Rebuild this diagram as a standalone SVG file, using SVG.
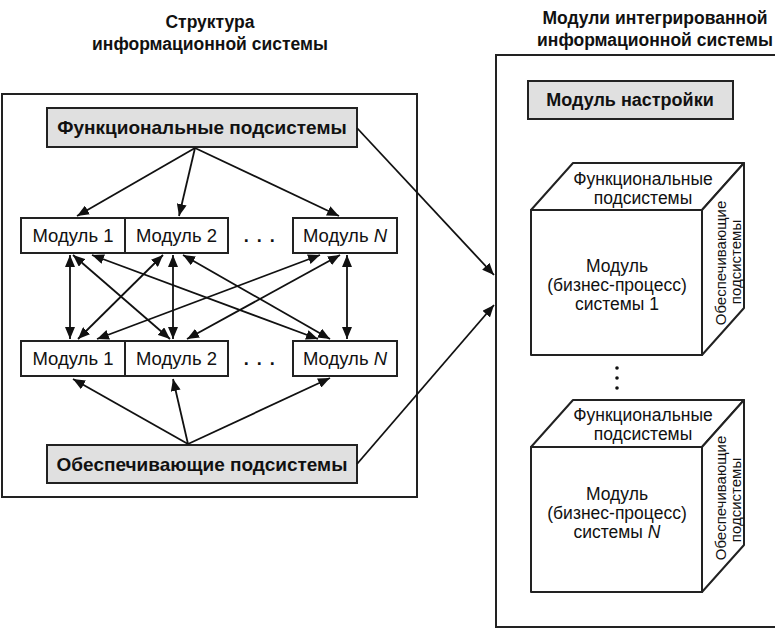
<svg xmlns="http://www.w3.org/2000/svg" width="775" height="630" viewBox="0 0 775 630">
<defs>
<marker id="ah" viewBox="0 0 12 10" refX="12" refY="5" markerWidth="12" markerHeight="10" markerUnits="userSpaceOnUse" orient="auto-start-reverse">
<path d="M0,0 L12,5 L0,10 Z" fill="#111"/>
</marker>
<style>
.frame{fill:none;stroke:#222;stroke-width:2}
.gbox{fill:#e0e0e0;stroke:#222;stroke-width:2}
.wbox{fill:#fff;stroke:#222;stroke-width:2}
.face{fill:#fff;stroke:#222;stroke-width:2;stroke-linejoin:round}
.t{font-family:"Liberation Sans",Arial,sans-serif;fill:#111;text-anchor:middle}
.b{font-weight:bold}
.c line{stroke:#111;stroke-width:1.8}
.one{marker-end:url(#ah)}
.two{marker-start:url(#ah);marker-end:url(#ah)}
</style>
</defs>
<rect width="775" height="630" fill="#fff"/>

<g id="titles">
<text class="t b" x="210" y="28" font-size="17.5">Структура</text>
<text class="t b" x="210" y="50" font-size="17.5">информационной системы</text>
<text class="t b" x="655" y="24" font-size="17.5">Модули интегрированной</text>
<text class="t b" x="655" y="46" font-size="17.5">информационной системы</text>
</g>

<g id="left-frame"><rect class="frame" x="2" y="94" width="415" height="403"/></g>
<g id="right-frame"><rect class="frame" x="496" y="55" width="300" height="572"/></g>

<g id="func">
<rect class="gbox" x="47" y="108" width="310" height="39"/>
<text class="t b" x="202" y="134" font-size="19">Функциональные подсистемы</text>
</g>
<g id="obesp">
<rect class="gbox" x="47" y="445" width="310" height="38"/>
<text class="t b" x="202" y="471" font-size="19">Обеспечивающие подсистемы</text>
</g>

<g id="row1-m1"><rect class="wbox" x="21" y="218" width="104" height="35"/><text class="t" x="73" y="242" font-size="18.5">Модуль 1</text></g>
<g id="row1-m2"><rect class="wbox" x="125" y="218" width="103" height="35"/><text class="t" x="176.5" y="242" font-size="18.5">Модуль 2</text></g>
<g id="row1-dots"><text class="t b" x="260" y="242" font-size="18" letter-spacing="1.5">. . .</text></g>
<g id="row1-mn"><rect class="wbox" x="293" y="218" width="104" height="35"/><text class="t" x="345" y="242" font-size="18.5">Модуль <tspan font-style="italic">N</tspan></text></g>

<g id="row2-m1"><rect class="wbox" x="21" y="341" width="104" height="35"/><text class="t" x="73" y="365" font-size="18.5">Модуль 1</text></g>
<g id="row2-m2"><rect class="wbox" x="125" y="341" width="103" height="35"/><text class="t" x="176.5" y="365" font-size="18.5">Модуль 2</text></g>
<g id="row2-dots"><text class="t b" x="260" y="365" font-size="18" letter-spacing="1.5">. . .</text></g>
<g id="row2-mn"><rect class="wbox" x="293" y="341" width="104" height="35"/><text class="t" x="345" y="365" font-size="18.5">Модуль <tspan font-style="italic">N</tspan></text></g>

<g id="nastroyka">
<rect class="gbox" x="528" y="81" width="205" height="38"/>
<text class="t b" x="630" y="106" font-size="18">Модуль настройки</text>
</g>

<g id="cube1">
<polygon class="face" points="531,210 573,163 744,163 702,210"/>
<polygon class="face" points="702,210 744,163 744,308 702,355"/>
<rect class="face" x="531" y="210" width="171" height="145"/>
<text class="t" x="643" y="185" font-size="17.5">Функциональные</text>
<text class="t" x="643" y="204" font-size="17.5">подсистемы</text>
<text class="t" x="617" y="272" font-size="17.5">Модуль</text>
<text class="t" x="617" y="291" font-size="17.5">(бизнес-процесс)</text>
<text class="t" x="617" y="310" font-size="17.5">системы 1</text>
<text class="t" font-size="15" transform="translate(726,263) rotate(-90)">Обеспечивающие</text>
<text class="t" font-size="15" transform="translate(741,262) rotate(-90)">подсистемы</text>
</g>

<g id="vdots">
<circle cx="617" cy="368" r="1.8" fill="#111"/>
<circle cx="617" cy="378" r="1.8" fill="#111"/>
<circle cx="617" cy="388" r="1.8" fill="#111"/>
</g>

<g id="cube2">
<polygon class="face" points="531,447 573,400 744,400 702,447"/>
<polygon class="face" points="702,447 744,400 744,545 702,592"/>
<rect class="face" x="531" y="447" width="171" height="145"/>
<text class="t" x="643" y="421" font-size="17.5">Функциональные</text>
<text class="t" x="643" y="440" font-size="17.5">подсистемы</text>
<text class="t" x="617" y="500" font-size="17.5">Модуль</text>
<text class="t" x="617" y="519" font-size="17.5">(бизнес-процесс)</text>
<text class="t" x="617" y="538" font-size="17.5">системы <tspan font-style="italic">N</tspan></text>
<text class="t" font-size="15" transform="translate(726,498) rotate(-90)">Обеспечивающие</text>
<text class="t" font-size="15" transform="translate(741,500) rotate(-90)">подсистемы</text>
</g>

<g id="connectors" class="c">
<line class="one" x1="195" y1="148" x2="77" y2="216"/>
<line class="one" x1="195" y1="148" x2="179" y2="216"/>
<line class="one" x1="195" y1="148" x2="339" y2="216"/>
<line class="one" x1="188" y1="444" x2="73" y2="379"/>
<line class="one" x1="188" y1="444" x2="173" y2="379"/>
<line class="one" x1="188" y1="444" x2="330" y2="378"/>
<line class="two" x1="70" y1="255" x2="70" y2="339"/>
<line class="two" x1="173" y1="255" x2="173" y2="339"/>
<line class="two" x1="347" y1="255" x2="347" y2="339"/>
<line class="two" x1="73" y1="255" x2="170" y2="339"/>
<line class="two" x1="92" y1="255" x2="318" y2="339"/>
<line class="two" x1="163" y1="255" x2="78" y2="339"/>
<line class="two" x1="183" y1="255" x2="330" y2="339"/>
<line class="two" x1="320" y1="255" x2="97" y2="339"/>
<line class="two" x1="340" y1="255" x2="187" y2="339"/>
<line class="one" x1="357" y1="128" x2="494" y2="275"/>
<line class="one" x1="357" y1="464" x2="494" y2="305"/>
</g>
</svg>
